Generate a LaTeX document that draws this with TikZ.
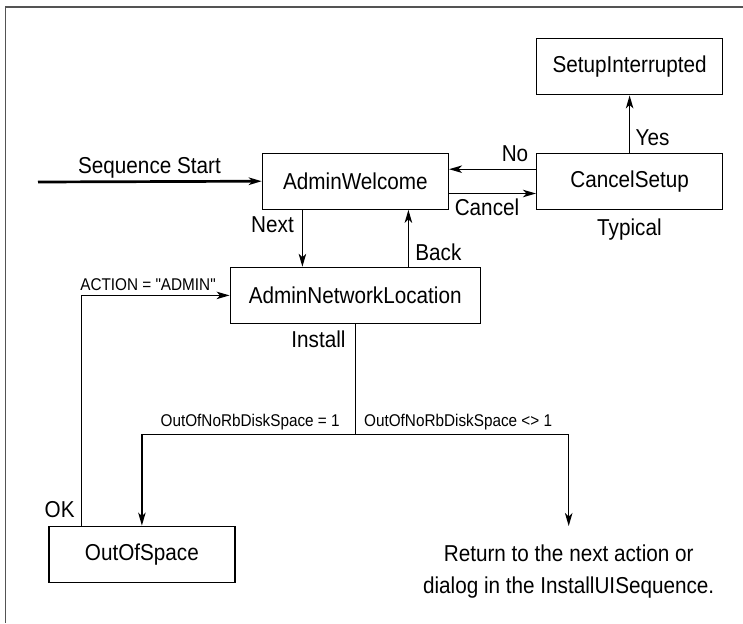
\documentclass[tikz,border=0pt]{standalone}
\usepackage{fontspec}
\setmainfont{Liberation Sans}[FakeStretch=0.9, Ligatures=TeXOff]
\usepackage{tikz}
\usetikzlibrary{positioning, arrows.meta, calc}

\tikzset{
    state/.style={rectangle, draw, line width=1.3pt, minimum width=186pt, minimum height=56pt, inner sep=0pt, font=\fontsize{23}{27}\selectfont},
    lbl/.style={anchor=base, inner sep=0pt, font=\fontsize{23}{27}\selectfont},
    cond/.style={anchor=base, inner sep=0pt, font=\fontsize{17}{20}\selectfont},
}

\begin{document}
\begin{tikzpicture}[x=1pt, y=-1pt, line width=1.3pt, >={Stealth[length=13pt, width=7.5pt, inset=3.5pt]}]
    \useasboundingbox (0,0) rectangle (743,623);
    \draw[black!67, line width=1.4pt] (743,7) -| (5.5,623);

    \node (AW) [state] at (355.4,181.2) {AdminWelcome};
    \node (CS) [state] at (629.6,181.2) {CancelSetup};
    \node (SI) [state] at (629.6,66.8) {SetupInterrupted};
    \node (ANL) [state, minimum width=250pt] at (355.2,295.4) {AdminNetworkLocation};
    \node (OOS) [state] at (141.9,554.2) {OutOfSpace};
    \node (Ret) [align=center, inner sep=0pt, font=\fontsize{23}{32}\selectfont] at (568.7,572) {Return to the next action or\\dialog in the InstallUISequence.};

    \coordinate (start) at (38,182);
    \coordinate (split) at (355.2,434.3);
    \coordinate (RetIn) at (568.7,526);
    \coordinate (NextTop) at ([xshift=-53pt]AW.south);
    \coordinate (BackTop) at ([xshift=53pt]AW.south);
    \coordinate (OkFoot) at ([xshift=-60.4pt]OOS.north);

    \draw[->, line width=2.7pt] (start) -- (AW.west);
    \draw[->] ([yshift=12pt]CS.west) -- ([yshift=12pt]AW.east);
    \draw[->] ([yshift=-12.3pt]AW.east) -- ([yshift=-12.3pt]CS.west);
    \draw[->] (CS.north) -- (SI.south);
    \draw[->] (NextTop) -- (NextTop |- ANL.north);
    \draw[->] (BackTop |- ANL.north) -- (BackTop);
    \draw[->] (OkFoot) |- (ANL.west);
    \draw (ANL.south) -- (split);
    \draw[->] (split) -| (OOS.north);
    \draw[->] (split) -| (RetIn);

    \node (lStart) [lbl] at (149.5,173.6) {Sequence Start};
    \node (lNo) [lbl] at (515,161) {No};
    \node (lCancel) [lbl] at (487,215.7) {Cancel};
    \node (lYes) [lbl] at (652.6,145) {Yes};
    \node (lTypical) [lbl] at (629.4,235.6) {Typical};
    \node (lNext) [lbl] at (272.5,232.4) {Next};
    \node (lBack) [lbl] at (438.4,260) {Back};
    \node (lInstall) [lbl] at (318.5,347.6) {Install};
    \node (lOK) [lbl] at (59.7,517.7) {OK};
    \node (lAction) [cond] at (148,290) {ACTION = "ADMIN"};
    \node (lFull) [cond, anchor=base east] at (340.3,426) {OutOfNoRbDiskSpace = 1};
    \node (lRoom) [cond, anchor=base west] at (363.5,426) {OutOfNoRbDiskSpace <> 1};
\end{tikzpicture}
\end{document}
